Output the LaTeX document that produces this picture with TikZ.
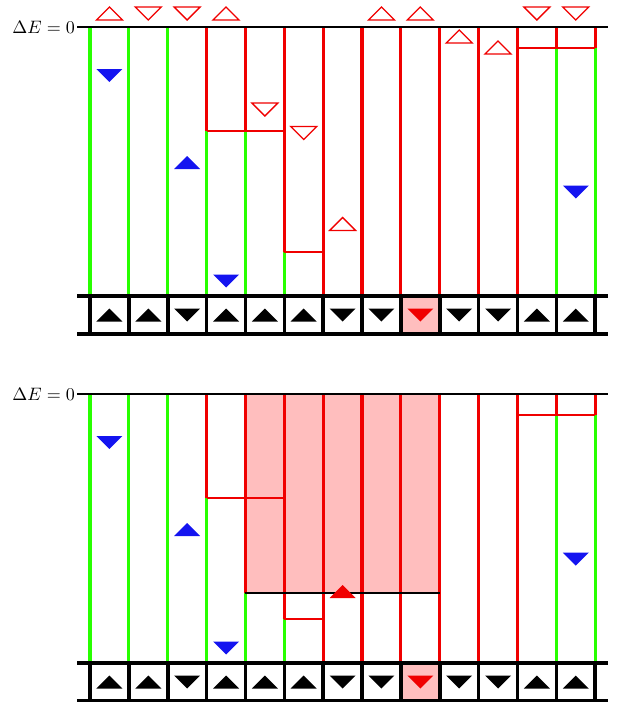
\documentclass[tikz,border=0pt]{standalone}
\usepackage{amsmath}
\usepackage{graphicx}
\definecolor{lred}{RGB}{240,0,0}
\definecolor{lgreen}{RGB}{40,255,0}
\definecolor{lblue}{RGB}{20,20,240}
\definecolor{lpink}{RGB}{255,190,190}
\tikzset{
 wallred/.style={lred, line width=3.2pt},
 wallgreen/.style={lgreen, line width=3.2pt},
 bondred/.style={lred, line width=1.8pt},
 openT/.style={draw=lred, line width=1.3pt},
 blueT/.style={fill=lblue},
 redT/.style={fill=lred},
 spinT/.style={fill=black},
 frameline/.style={black, line width=3.6pt},
 zeroline/.style={black, line width=2.2pt},
 pinkbox/.style={fill=lpink},
 cutline/.style={black, line width=1.8pt},
 elabel/.style={anchor=east, inner sep=1pt},
}
% triangles: style, cell index, centre y
\newcommand\TU[3]{\path[#1] ({109.43+38.86*#2-13},{#3+6.5}) -- ({109.43+38.86*#2+13},{#3+6.5}) -- ({109.43+38.86*#2},{#3-6.5}) -- cycle;}
\newcommand\TD[3]{\path[#1] ({109.43+38.86*#2-13},{#3-6.5}) -- ({109.43+38.86*#2+13},{#3-6.5}) -- ({109.43+38.86*#2},{#3+6.5}) -- cycle;}
% vertical segment: style, line index, y1, y2
\newcommand\VL[4]{\draw[#1] ({90+38.86*#2},#3) -- ({90+38.86*#2},#4);}
% horizontal segment: style, line index a, line index b, y
\newcommand\HL[4]{\draw[#1] ({90+38.86*#2},#4) -- ({90+38.86*#3},#4);}
\newcommand\commonpanel[1]{%
  % cell 8 pink background in chain
  \fill[lpink] ({90+38.86*8},296) rectangle ({90+38.86*9},334);
  % walls
  \foreach \i in {0,1,2} {\VL{wallgreen}{\i}{27}{296}}
  \VL{wallred}{3}{27}{131}\VL{wallgreen}{3}{131}{296}
  \VL{wallred}{5}{27}{252}\VL{wallgreen}{5}{252}{296}
  \foreach \i in {6,...,11} {\VL{wallred}{\i}{27}{296}}
  \foreach \i in {12,13} {\VL{wallred}{\i}{27}{48}\VL{wallgreen}{\i}{48}{296}}
  \HL{bondred}{3}{5}{131}
  \HL{bondred}{5}{6}{252}
  \HL{bondred}{11}{13}{48}
  % zero line and label
  \draw[zeroline] (77,27) -- (608,27);
  \node[elabel] (#1) at (76,27) {\scalebox{1.8}{$\Delta E = 0$}};
  % chain frame
  \draw[frameline] (77,296) -- (608,296);
  \draw[frameline] (77,334) -- (608,334);
  \foreach \i in {0,...,13} {\VL{frameline}{\i}{296}{334}}
  % spins
  \foreach \j in {0,1,3,4,5,11,12} {\TU{spinT}{\j}{315}}
  \foreach \j in {2,6,7,9,10} {\TD{spinT}{\j}{315}}
  \TD{redT}{8}{315}
  % blue triangles
  \TD{blueT}{0}{75.5}
  \TU{blueT}{2}{162.5}
  \TD{blueT}{3}{281}
  \TD{blueT}{12}{192}
}
\begin{document}
\begin{tikzpicture}[x=1pt,y=-1pt]
\useasboundingbox (0,0) rectangle (621,702);
% ---------- panel 1 ----------
\begin{scope}
  \VL{wallred}{4}{27}{131}\VL{wallgreen}{4}{131}{296}
  \commonpanel{lbla}
  \foreach \j in {0,3,7,8} {\TU{openT}{\j}{13.5}}
  \foreach \j in {1,2,11,12} {\TD{openT}{\j}{13.5}}
  \TD{openT}{4}{109.5}
  \TD{openT}{5}{133}
  \TU{openT}{6}{224}
  \TU{openT}{9}{36.5}
  \TU{openT}{10}{47.5}
\end{scope}
% ---------- panel 2 ----------
\begin{scope}[shift={(0,367)}]
  \fill[lpink] ({90+38.86*4},27) rectangle ({90+38.86*9},226);
  \VL{wallred}{4}{27}{226}\VL{wallgreen}{4}{226}{296}
  \commonpanel{lblb}
  \HL{cutline}{4}{9}{226}
  \TU{redT}{6}{224.5}
\end{scope}
\end{tikzpicture}
\end{document}
